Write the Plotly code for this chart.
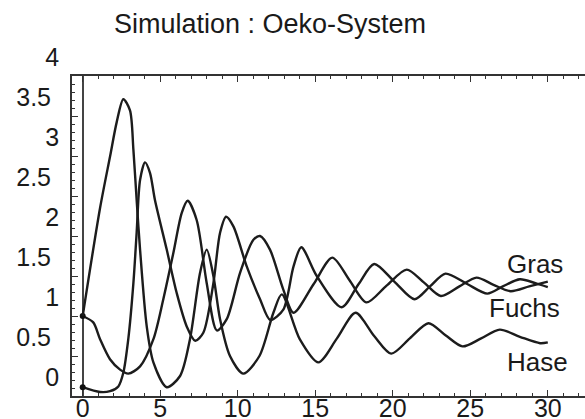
import plotly.graph_objects as go

# ---- data ----
series_names = ["Gras", "Fuchs", "Hase"]

gras_t = [0.0, 0.68, 1.12, 1.76, 2.41, 2.94, 3.7, 4.56, 5.2, 5.85, 6.39, 6.77, 7.35, 8.0, 8.65,
          9.29, 10.15, 11.0, 11.44, 12.08, 12.94, 13.6, 14.9, 16.1, 17.2, 18.3, 19.6, 20.9,
          22.0, 23.1, 24.3, 25.4, 26.5, 27.6, 28.8, 30.0]
gras_y = [1.0, 0.92, 0.71, 0.46, 0.33, 0.28, 0.37, 0.71, 1.21, 1.79, 2.29, 2.44, 2.2, 1.41, 0.82,
          0.96, 1.54, 1.95, 2.0, 1.83, 1.33, 1.04, 1.4, 1.73, 1.45, 1.17, 1.38, 1.58,
          1.42, 1.25, 1.37, 1.48, 1.39, 1.31, 1.37, 1.43]

fuchs_t = [0.0, 1.12, 1.76, 2.3, 2.62, 2.94, 3.27, 3.48, 3.7, 4.02, 4.34, 4.66, 5.42, 6.06, 6.71,
           7.26, 7.78, 8.43, 8.86, 9.25, 9.72, 10.58, 11.44, 12.1, 12.94, 13.6, 14.1, 15.1,
           16.7, 17.8, 18.8, 20.1, 21.4, 22.4, 23.4, 24.8, 26.1, 27.1, 28.2, 29.2, 30.0]
fuchs_y = [0.11, 0.05, 0.06, 0.12, 0.29, 0.71, 1.41, 2.04, 2.7, 2.92, 2.79, 2.45, 1.83, 1.29, 0.87,
           0.69, 0.79, 1.41, 2.04, 2.24, 2.12, 1.62, 1.21, 0.95, 1.08, 1.62, 1.86, 1.5,
           1.11, 1.4, 1.65, 1.43, 1.21, 1.37, 1.53, 1.4, 1.28, 1.37, 1.46, 1.41, 1.36]

hase_t = [0.0, 1.12, 1.77, 2.19, 2.62, 3.05, 3.27, 3.48, 3.7, 4.13, 4.56, 5.42, 6.28, 6.92, 7.57,
          8.0, 8.43, 8.86, 9.5, 10.36, 11.4, 12.3, 12.84, 14.0, 15.2, 16.4, 17.6, 18.8, 19.9,
          21.1, 22.3, 23.4, 24.5, 25.7, 26.9, 28.2, 29.5, 30.0]
hase_y = [1.0, 2.35, 3.0, 3.42, 3.71, 3.57, 3.08, 2.45, 1.83, 0.87, 0.42, 0.11, 0.25, 0.71, 1.54,
          1.83, 1.5, 0.96, 0.5, 0.28, 0.5, 1.04, 1.27, 0.71, 0.42, 0.72, 1.04, 0.75, 0.53,
          0.72, 0.91, 0.76, 0.62, 0.72, 0.83, 0.74, 0.66, 0.67]

label_x = [29.18, 28.52, 29.34]
label_y = [1.65, 1.10, 0.43]

x_ticks = [0, 5, 10, 15, 20, 25, 30]
y_int_ticks = [0, 1, 2, 3, 4]
y_half_ticks = [0.5, 1.5, 2.5, 3.5]
y_int_text = ["0", "1", "2", "3", "4"]
y_half_text = ["0.5", "1.5", "2.5", "3.5"]

# ---- figure ----
FONT = "Liberation Sans, Arial, sans-serif"
INK = "#1a1a1a"
LINE = "#333333"

fig = go.Figure()
for t, y, ax in [(gras_t, gras_y, "y"), (fuchs_t, fuchs_y, "y"), (hase_t, hase_y, "y2")]:
    fig.add_trace(go.Scatter(x=t, y=y, mode="lines", yaxis=ax,
                             line=dict(color="#1c1c1c", width=2.4, shape="spline", smoothing=0.8),
                             hoverinfo="skip"))

fig.add_trace(go.Scatter(x=[gras_t[0], fuchs_t[0]], y=[gras_y[0], fuchs_y[0]], mode="markers",
                         marker=dict(color="#111111", size=6), hoverinfo="skip"))

for name, lx, ly in zip(series_names, label_x, label_y):
    fig.add_annotation(x=lx, y=ly, text=name, showarrow=False, xanchor="center", yanchor="middle",
                       font=dict(family=FONT, size=26, color=INK))

fig.update_layout(
    width=585, height=419,
    margin=dict(l=72, r=0, t=76, b=23, autoexpand=False),
    plot_bgcolor="white", paper_bgcolor="white",
    showlegend=False,
    font=dict(family=FONT, size=25, color=INK),
    title=dict(text="Simulation : Oeko-System", x=270 / 585, xref="container", xanchor="center",
               y=1 - 24 / 419, yref="container", yanchor="middle", automargin=False,
               font=dict(family=FONT, size=27, color=INK)),
    xaxis=dict(range=[-0.69, 32.4], tickmode="array", tickvals=x_ticks, automargin=False,
               ticks="inside", ticklen=6, tickwidth=1, tickcolor=LINE,
               showline=True, linecolor=LINE, linewidth=1.5, mirror="ticks",
               showgrid=False, zeroline=True, zerolinecolor="#444444", zerolinewidth=1.5,
               minor=dict(tick0=0, dtick=1, ticks="inside", ticklen=3, tickcolor=LINE, showgrid=False),
               ticklabelstandoff=-11,
               tickfont=dict(family=FONT, size=25, color=INK)),
    yaxis=dict(range=[0, 4], tickmode="array", tickvals=y_int_ticks, ticktext=y_int_text,
               automargin=False,
               ticks="inside", ticklen=6, tickwidth=1, tickcolor=LINE,
               showline=True, linecolor=LINE, linewidth=1.5, mirror=False,
               showgrid=False, zeroline=False,
               minor=dict(tick0=0, dtick=0.1, ticks="inside", ticklen=3, tickcolor=LINE, showgrid=False),
               ticklabelshift=-19, ticklabelstandoff=6,
               tickfont=dict(family=FONT, size=25, color=INK)),
    yaxis2=dict(range=[0, 4], overlaying="y", side="left", anchor="x", automargin=False,
                tickmode="array", tickvals=y_half_ticks, ticktext=y_half_text,
                ticks="inside", ticklen=6, tickwidth=1, tickcolor=LINE,
                showline=False, showgrid=False, zeroline=False,
                ticklabelshift=-19, ticklabelstandoff=20,
                tickfont=dict(family=FONT, size=25, color=INK)),
)

fig.write_html("out.html")
